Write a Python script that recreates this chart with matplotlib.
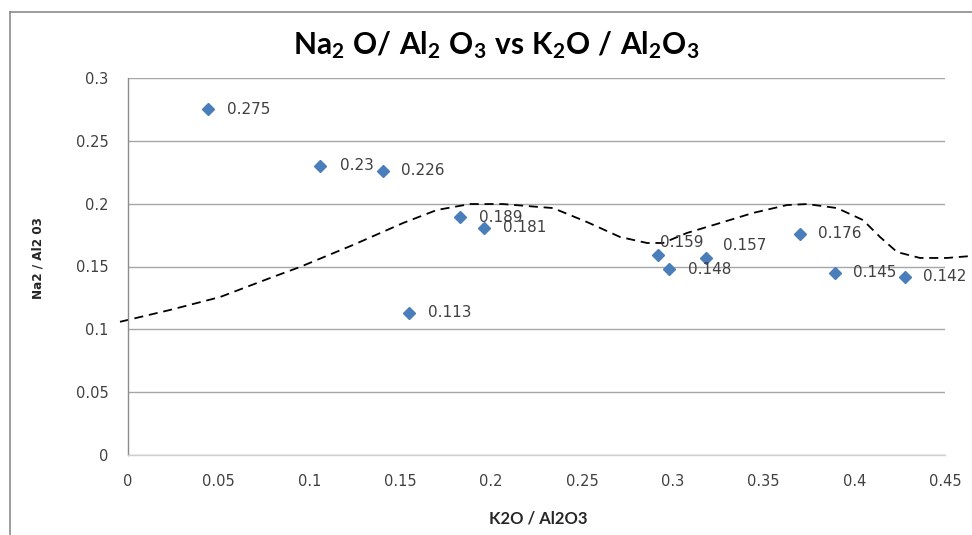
import matplotlib
matplotlib.use("Agg")
import matplotlib.pyplot as plt
from matplotlib.lines import Line2D

# ---- data ----
k2o_al2o3 = [0.0441, 0.1057, 0.1404, 0.1548, 0.1829, 0.1961,
             0.2919, 0.2980, 0.3184, 0.3701, 0.3894, 0.4280]
na2o_al2o3 = [0.275, 0.23, 0.226, 0.113, 0.189, 0.181,
              0.159, 0.148, 0.157, 0.176, 0.145, 0.142]
point_labels = ["0.275", "0.23", "0.226", "0.113", "0.189", "0.181",
                "0.159", "0.148", "0.157", "0.176", "0.145", "0.142"]

# dashed boundary curve
curve_x = [-0.0044, 0.0231, 0.0507, 0.0782, 0.0947, 0.1239, 0.1515, 0.1702,
           0.1884, 0.2065, 0.2269, 0.2341, 0.2528, 0.2710, 0.2859, 0.2947,
           0.3079, 0.3261, 0.3442, 0.3630, 0.3740, 0.3905, 0.4048, 0.4142,
           0.4236, 0.4362, 0.4511, 0.4649]
curve_y = [0.106, 0.1154, 0.1257, 0.1408, 0.1496, 0.1671, 0.1846, 0.1950,
           0.1997, 0.1997, 0.1973, 0.1965, 0.1854, 0.1735, 0.1687, 0.1687,
           0.1767, 0.1846, 0.1926, 0.1989, 0.1997, 0.1965, 0.1870, 0.1735,
           0.1615, 0.1568, 0.1568, 0.1584]

x_ticks = [0, 0.05, 0.1, 0.15, 0.2, 0.25, 0.3, 0.35, 0.4, 0.45]
x_ticklabels = ["0", "0.05", "0.1", "0.15", "0.2", "0.25", "0.3", "0.35", "0.4", "0.45"]
y_ticks = [0, 0.05, 0.1, 0.15, 0.2, 0.25, 0.3]
y_ticklabels = ["0", "0.05", "0.1", "0.15", "0.2", "0.25", "0.3"]

# label offsets in pixels (layout only)
label_offsets = [(19, 0), (20, 0), (18, 0), (19, 0), (19, 0), (19, 0),
                 (2, -13), (19, 0), (17, -12), (18, 0), (18, 0), (18, 0)]

plt.rcParams['font.family'] = ['DejaVu Sans']
plt.rcParams['mathtext.fontset'] = 'custom'
plt.rcParams['mathtext.rm'] = 'Lato:bold'
plt.rcParams['mathtext.it'] = 'Lato:bold'
plt.rcParams['mathtext.bf'] = 'Lato:bold'

fig = plt.figure(figsize=(9.72, 5.35), dpi=100)
ax = fig.add_axes([128 / 972, 80 / 535, 817 / 972, 377 / 535])

ax.set_xlim(0, 0.45)
ax.set_ylim(0, 0.3)
ax.set_xticks(x_ticks)
ax.set_xticklabels(x_ticklabels)
ax.set_yticks(y_ticks)
ax.set_yticklabels(y_ticklabels)
ax.tick_params(length=0, labelsize=10.5, labelcolor="#404040")
ax.tick_params(axis='x', pad=14)
ax.tick_params(axis='y', pad=14)

ax.grid(axis='y', color="#a6a6a6", linewidth=1.0)
ax.set_axisbelow(True)
for s in ["top", "right"]:
    ax.spines[s].set_visible(False)
ax.spines["left"].set_color("#8c8c8c")
ax.spines["left"].set_linewidth(1.0)
ax.spines["bottom"].set_color("#d0d0d0")
ax.spines["bottom"].set_linewidth(1.0)

ax.plot(curve_x, curve_y, color="black", linewidth=1.3,
        linestyle=(0, (5, 3.2)), clip_on=False, zorder=2)

ax.plot(k2o_al2o3, na2o_al2o3, linestyle="none", marker="D", markersize=6.5,
        color="#4a7ebb", markeredgecolor="#4a7ebb", zorder=3)

for x, y, lab, (dx, dy) in zip(k2o_al2o3, na2o_al2o3, point_labels, label_offsets):
    ax.annotate(lab, (x, y), xytext=(dx * 0.72, -dy * 0.72), textcoords="offset points",
                ha="left", va="center", fontsize=11, color="#404040",
                annotation_clip=False, zorder=4)

ax.set_xlabel("K2O / Al2O3", fontsize=12, fontweight="bold",
              family=["Lato", "DejaVu Sans"], color="#262626")
ax.xaxis.set_label_coords(0.502, -0.146)
ax.set_ylabel("Na2 / Al2 03", fontsize=9.6, fontweight="bold",
              family=["DejaVu Sans"], fontstretch="condensed", color="#262626")
ax.yaxis.set_label_coords(-0.1016, 0.522)

fig.text(0.510, 1 - 45 / 535,
         r"$\mathrm{Na_2\ O/\ Al_2\ O_3\ vs\ K_2O\ /\ Al_2O_3}$",
         ha="center", va="center", fontsize=21.5, color="black")

# chart frame (left and top edges visible in the crop)
fig.add_artist(Line2D([10 / 972, 10 / 972], [0, 1 - 12 / 535],
                      transform=fig.transFigure, color="#8c8c8c", linewidth=1.2))
fig.add_artist(Line2D([10 / 972, 1], [1 - 12 / 535, 1 - 12 / 535],
                      transform=fig.transFigure, color="#8c8c8c", linewidth=1.2))

fig.savefig("out.png", dpi=100)
